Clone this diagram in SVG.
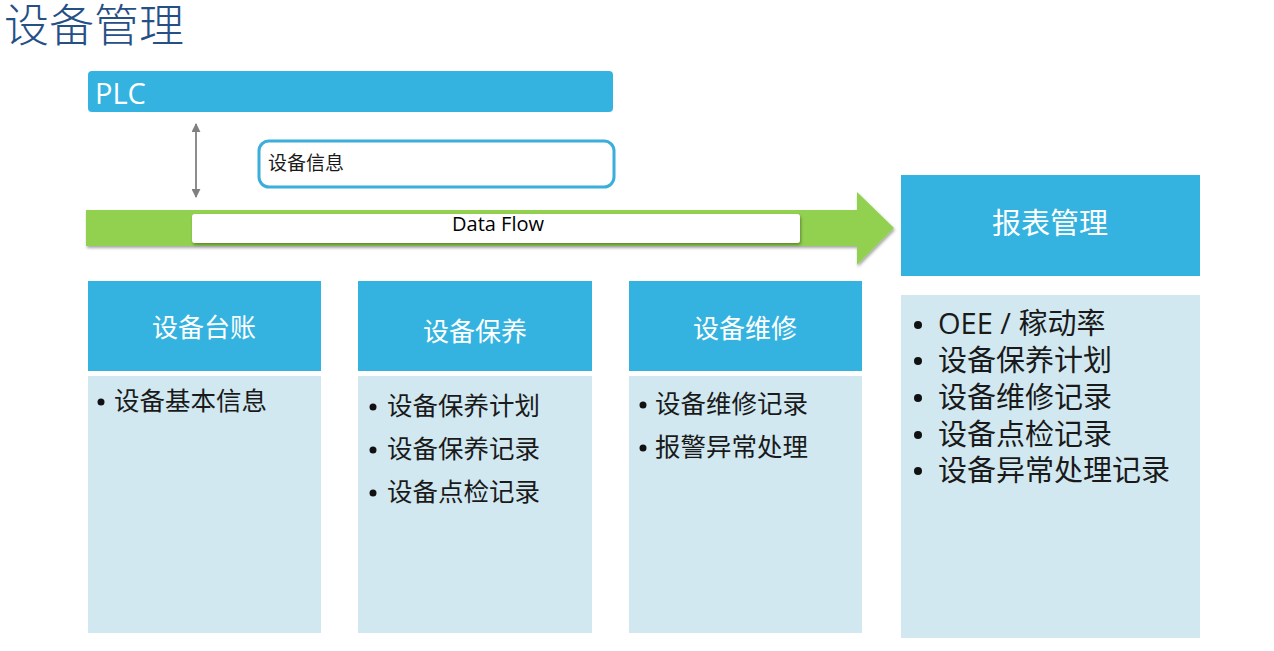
<svg xmlns="http://www.w3.org/2000/svg" width="1274" height="651" viewBox="0 0 1274 651">
<style>
.cjk{font-family:"Noto Sans CJK SC","Noto Sans",sans-serif}
.hdr{fill:#35B3E0}
.body{fill:#D1E8F1}
.htxt{fill:#FFFFFF;text-anchor:middle}
.btxt{fill:#1A1A1A}
.dot{fill:#111111}
</style>
<defs>
<filter id="sh" x="-5%" y="-20%" width="110%" height="160%">
<feDropShadow dx="1" dy="2" stdDeviation="1.5" flood-color="#000" flood-opacity="0.35"/>
</filter>
<marker id="ah" viewBox="0 0 10 10" refX="9" refY="5" markerWidth="5" markerHeight="5" orient="auto-start-reverse">
<path d="M0,0 L10,5 L0,10 z" fill="#808080"/>
</marker>
</defs>
<rect width="1274" height="651" fill="#FFFFFF"/>
<text class="cjk" x="4" y="42" font-size="45" font-weight="300" fill="#264F86">设备管理</text>

<g id="plc">
<rect x="88" y="71" width="525" height="41" rx="4" class="hdr"/>
<text x="95" y="104" font-family="'Open Sans',sans-serif" font-size="29" fill="#FFFFFF">PLC</text>
</g>

<g id="connectors">
<line x1="196" y1="124" x2="196" y2="197" stroke="#808080" stroke-width="1.8" marker-start="url(#ah)" marker-end="url(#ah)"/>
<path d="M86,210 L857,210 L857,192 L894,228 L857,265 L857,246 L86,246 z" fill="#92D050" filter="url(#sh)"/>
</g>

<g id="info">
<rect x="259" y="141" width="355" height="46" rx="10" fill="#FFFFFF" stroke="#3BAEDB" stroke-width="3"/>
<text class="cjk" x="268" y="170" font-size="19" fill="#1A1A1A">设备信息</text>
</g>

<g id="dataflow">
<rect x="192" y="214" width="608" height="29" rx="3" fill="#FFFFFF" filter="url(#sh)"/>
<text x="498" y="231" font-family="'Open Sans',sans-serif" font-size="20" fill="#000000" text-anchor="middle">Data Flow</text>
</g>

<g id="report">
<rect x="901" y="175" width="299" height="101" class="hdr"/>
<text class="cjk htxt" x="1050" y="234" font-size="29">报表管理</text>
<rect x="901" y="295" width="299" height="343" class="body"/>
<circle cx="918" cy="325" r="4" class="dot"/>
<circle cx="918" cy="361" r="4" class="dot"/>
<circle cx="918" cy="398" r="4" class="dot"/>
<circle cx="918" cy="435" r="4" class="dot"/>
<circle cx="918" cy="471" r="4" class="dot"/>
<text class="cjk btxt" x="938" y="334" font-size="29"><tspan font-family="'Open Sans',sans-serif">OEE / </tspan>稼动率</text>
<text class="cjk btxt" x="938" y="371" font-size="29">设备保养计划</text>
<text class="cjk btxt" x="938" y="408" font-size="29">设备维修记录</text>
<text class="cjk btxt" x="938" y="445" font-size="29">设备点检记录</text>
<text class="cjk btxt" x="938" y="481" font-size="29">设备异常处理记录</text>
</g>

<g id="ledger">
<rect x="88" y="281" width="233" height="90" class="hdr"/>
<text class="cjk htxt" x="204" y="337" font-size="26">设备台账</text>
<rect x="88" y="376" width="233" height="257" class="body"/>
<circle cx="101" cy="402" r="3.5" class="dot"/>
<text class="cjk btxt" x="114" y="410" font-size="25.5">设备基本信息</text>
</g>

<g id="maintain">
<rect x="358" y="281" width="234" height="90" class="hdr"/>
<text class="cjk htxt" x="475" y="341" font-size="26">设备保养</text>
<rect x="358" y="376" width="234" height="257" class="body"/>
<circle cx="373" cy="407" r="3.5" class="dot"/>
<circle cx="373" cy="450" r="3.5" class="dot"/>
<circle cx="373" cy="493" r="3.5" class="dot"/>
<text class="cjk btxt" x="387" y="415" font-size="25.5">设备保养计划</text>
<text class="cjk btxt" x="387" y="458" font-size="25.5">设备保养记录</text>
<text class="cjk btxt" x="387" y="501" font-size="25.5">设备点检记录</text>
</g>

<g id="repair">
<rect x="629" y="281" width="233" height="90" class="hdr"/>
<text class="cjk htxt" x="745" y="338" font-size="26">设备维修</text>
<rect x="629" y="376" width="233" height="257" class="body"/>
<circle cx="643" cy="405" r="3.5" class="dot"/>
<circle cx="643" cy="448" r="3.5" class="dot"/>
<text class="cjk btxt" x="655" y="413" font-size="25.5">设备维修记录</text>
<text class="cjk btxt" x="655" y="456" font-size="25.5">报警异常处理</text>
</g>
</svg>
